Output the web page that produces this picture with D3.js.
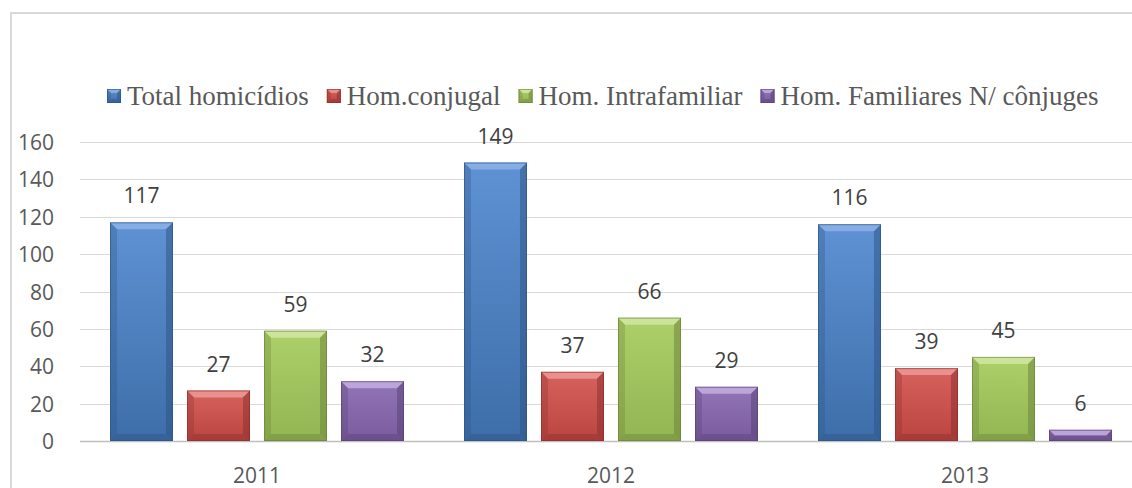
<!DOCTYPE html>
<html>
<head>
<meta charset="utf-8">
<script src="https://cdn.jsdelivr.net/npm/d3@7"></script>
<style>
  body { margin: 0; background: #fff; }
  svg { display: block; }
  .tick-label { font-family: "Open Sans", sans-serif; font-size: 21px; fill: #595959; }
  .value-label { font-family: "Open Sans", sans-serif; font-size: 21px; fill: #404040; }
  .legend-label { font-family: "Liberation Serif", "Times New Roman", serif; font-size: 27px; fill: #595959; }
</style>
</head>
<body>
<svg width="1132" height="488"></svg>
<script>
// data
var years = ["2011", "2012", "2013"];
var seriesNames = ["Total homicídios", "Hom.conjugal", "Hom. Intrafamiliar", "Hom. Familiares N/ cônjuges"];
var totalHomicidios = [117, 149, 116];
var homConjugal = [27, 37, 39];
var homIntrafamiliar = [59, 66, 45];
var homFamiliaresNConjuges = [32, 29, 6];
var yTicks = [0, 20, 40, 60, 80, 100, 120, 140, 160];

var seriesValues = [totalHomicidios, homConjugal, homIntrafamiliar, homFamiliaresNConjuges];

// base, light (bevel top), dark (edges) per series
var palette = [
	{ base: "#4f81bd", top: "#5f92d4", bottom: "#3d6ea9", light: "#8db3e6", dark: "#2b5282" },
	{ base: "#c0504d", top: "#d6625e", bottom: "#bb4440", light: "#ec9a97", dark: "#8a2d2b" },
	{ base: "#9bbb59", top: "#aed06a", bottom: "#93b552", light: "#d1e8a3", dark: "#687f38" },
	{ base: "#8064a2", top: "#9275b6", bottom: "#7a5c9e", light: "#c3aee0", dark: "#563f74" }
];

var svg = d3.select("svg");
var defs = svg.append("defs");

palette.forEach(function(c, i){
	var g = defs.append("linearGradient")
		.attr("id", "bar-grad-" + i)
		.attr("x1", 0).attr("y1", 0).attr("x2", 0).attr("y2", 1);
	g.append("stop").attr("offset", "0%").attr("stop-color", c.top);
	g.append("stop").attr("offset", "100%").attr("stop-color", c.bottom);
});

// frame
svg.append("line")
	.attr("x1", 10).attr("x2", 1132).attr("y1", 13).attr("y2", 13)
	.attr("stroke", "#d9d9d9").attr("stroke-width", 2);
svg.append("line")
	.attr("x1", 11).attr("x2", 11).attr("y1", 12).attr("y2", 488)
	.attr("stroke", "#d9d9d9").attr("stroke-width", 2);

var y = d3.scaleLinear().domain([0, 160]).range([441, 142]);
var x0 = d3.scaleBand().domain(years).range([80, 1142]);
var x1 = d3.scaleBand().domain(d3.range(seriesNames.length)).range([0, 294]).paddingInner(0.182);
var groupPad = (x0.bandwidth() - 294) / 2;

// gridlines
svg.append("g").attr("class", "grid")
	.selectAll("line")
	.data(yTicks)
	.enter().append("line")
	.attr("x1", 80).attr("x2", 1132)
	.attr("y1", function(d){ return Math.round(y(d)) + 0.5; })
	.attr("y2", function(d){ return Math.round(y(d)) + 0.5; })
	.attr("stroke", function(d){ return d === 0 ? "#bfbfbf" : "#d9d9d9"; })
	.attr("stroke-width", function(d){ return d === 0 ? 1.5 : 1; });

// y axis labels
svg.append("g")
	.selectAll("text")
	.data(yTicks)
	.enter().append("text")
	.attr("class", "tick-label")
	.attr("text-anchor", "end")
	.attr("x", 54)
	.attr("y", function(d){ return y(d) + 8; })
	.text(function(d){ return d; });

// category labels
svg.append("g")
	.selectAll("text")
	.data(years)
	.enter().append("text")
	.attr("class", "tick-label")
	.attr("text-anchor", "middle")
	.attr("x", function(d){ return x0(d) + x0.bandwidth() / 2; })
	.attr("y", 483)
	.text(function(d){ return d; });

// bevelled bar
function drawBar(sel, bx, by, w, h, i, b){
	var c = palette[i];
	b = Math.min(b, h / 2);
	sel.append("rect")
		.attr("x", bx).attr("y", by).attr("width", w).attr("height", h)
		.attr("fill", "url(#bar-grad-" + i + ")");
	var poly = function(pts, fill, op){
		sel.append("polygon")
			.attr("points", pts.map(function(p){ return p.join(","); }).join(" "))
			.attr("fill", fill).attr("fill-opacity", op);
	};
	poly([[bx, by], [bx + w, by], [bx + w - b, by + b], [bx + b, by + b]], c.light, 0.85);
	poly([[bx, by], [bx + b, by + b], [bx + b, by + h - b], [bx, by + h]], c.dark, 0.3);
	poly([[bx + w, by], [bx + w - b, by + b], [bx + w - b, by + h - b], [bx + w, by + h]], c.dark, 0.5);
	poly([[bx, by + h], [bx + b, by + h - b], [bx + w - b, by + h - b], [bx + w, by + h]], c.dark, 0.4);
	sel.append("rect")
		.attr("x", bx + 0.5).attr("y", by + 0.5).attr("width", w - 1).attr("height", h - 1)
		.attr("fill", "none").attr("stroke", c.dark).attr("stroke-opacity", 0.6);
}

var bars = svg.append("g").attr("class", "bars");
years.forEach(function(yr, j){
	seriesValues.forEach(function(vals, i){
		var bx = x0(yr) + groupPad + x1(i);
		var by = y(vals[j]);
		var h = y(0) - by;
		var g = bars.append("g");
		drawBar(g, bx, by, x1.bandwidth(), h, i, 7);
		bars.append("text")
			.attr("class", "value-label")
			.attr("text-anchor", "middle")
			.attr("x", bx + x1.bandwidth() / 2)
			.attr("y", by - 19)
			.text(vals[j]);
	});
});

// legend
var legend = svg.append("g").attr("class", "legend");
var lx = 107;
seriesNames.forEach(function(name, i){
	var item = legend.append("g");
	drawBar(item, lx, 89, 14, 14, i, 4);
	var t = item.append("text")
		.attr("class", "legend-label")
		.attr("x", lx + 20)
		.attr("y", 105)
		.text(name);
	lx = lx + 20 + t.node().getComputedTextLength() + 18;
});
</script>
</body>
</html>
